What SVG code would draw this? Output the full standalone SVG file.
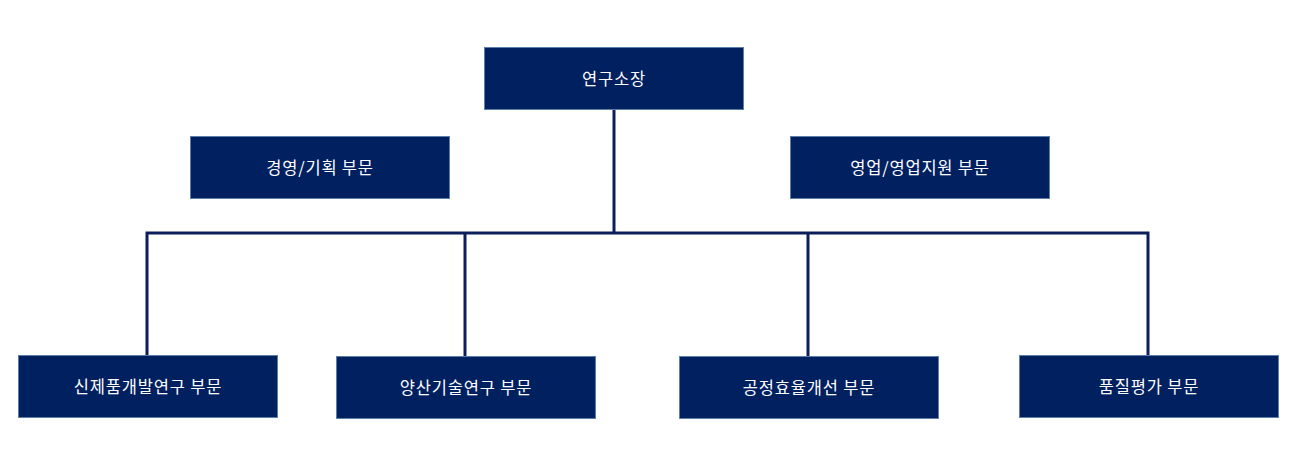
<svg xmlns="http://www.w3.org/2000/svg" width="1291" height="464" viewBox="0 0 1291 464">
<style>
.box{fill:#002060;stroke:#5b7fa8;stroke-width:1}
.lbl{fill:#ffffff;font-family:"Noto Sans CJK KR","Noto Sans",sans-serif;font-size:16.5px;letter-spacing:0.8px;text-anchor:middle;dominant-baseline:central}
.conn{stroke:#0c1e5a;stroke-width:3;fill:none}
</style>
<rect width="1291" height="464" fill="#ffffff"/>
<g id="connectors">
<path class="conn" d="M614 109 V233"/>
<path class="conn" d="M147 355 V233 H1148 V355"/>
<path class="conn" d="M465 233 V356"/>
<path class="conn" d="M808 233 V356"/>
</g>
<g id="n-head"><rect class="box" x="484.5" y="47.5" width="259" height="62"/><text class="lbl" x="614" y="78">연구소장</text></g>
<g id="n-mgmt"><rect class="box" x="190.5" y="136.5" width="259" height="62"/><text class="lbl" x="320" y="167">경영/기획 부문</text></g>
<g id="n-sales"><rect class="box" x="790.5" y="136.5" width="259" height="62"/><text class="lbl" x="920" y="167">영업/영업지원 부문</text></g>
<g id="n-new"><rect class="box" x="18.5" y="355.5" width="259" height="62"/><text class="lbl" x="148" y="386">신제품개발연구 부문</text></g>
<g id="n-mass"><rect class="box" x="336.5" y="356.5" width="259" height="62"/><text class="lbl" x="466" y="387">양산기술연구 부문</text></g>
<g id="n-proc"><rect class="box" x="679.5" y="356.5" width="259" height="62"/><text class="lbl" x="809" y="387">공정효율개선 부문</text></g>
<g id="n-qual"><rect class="box" x="1019.5" y="355.5" width="259" height="62"/><text class="lbl" x="1149" y="386">품질평가 부문</text></g>
</svg>
